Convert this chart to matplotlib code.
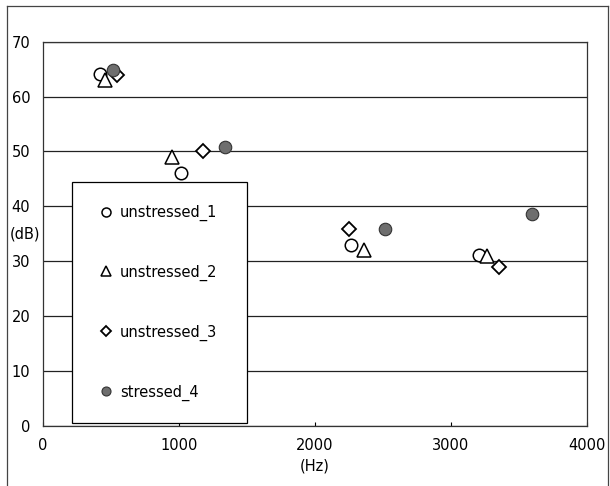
import matplotlib
matplotlib.use("Agg")
import matplotlib.pyplot as plt
from matplotlib.lines import Line2D

plt.rcParams['font.family'] = ['DejaVu Sans']

series_names = ["unstressed_1", "unstressed_2", "unstressed_3", "stressed_4"]
hz_unstressed_1 = [420, 1020, 2270, 3210]
db_unstressed_1 = [64.2, 46.0, 33.0, 31.1]
hz_unstressed_2 = [460, 950, 2360, 3270]
db_unstressed_2 = [63.0, 49.0, 32.0, 31.0]
hz_unstressed_3 = [550, 1180, 2250, 3355]
db_unstressed_3 = [63.9, 50.0, 35.8, 29.0]
hz_stressed_4 = [515, 1340, 2520, 3600]
db_stressed_4 = [64.8, 50.9, 35.8, 38.6]

x_ticks = [0, 1000, 2000, 3000, 4000]
y_ticks = [0, 10, 20, 30, 40, 50, 60, 70]

fig = plt.figure(figsize=(6.10, 4.86), dpi=100)
ax = fig.add_axes([0.070, 0.1235, 0.8918, 0.7907])

ms = 9
ax.plot(hz_unstressed_1, db_unstressed_1, linestyle='none', marker='o', ms=ms,
        mfc='white', mec='black', mew=1.1, label=series_names[0], zorder=3)
ax.plot(hz_unstressed_2, db_unstressed_2, linestyle='none', marker='^', ms=ms + 0.5,
        mfc='white', mec='black', mew=1.1, label=series_names[1], zorder=3)
ax.plot(hz_unstressed_3, db_unstressed_3, linestyle='none', marker='D', ms=7,
        mfc='white', mec='black', mew=1.3, label=series_names[2], zorder=3)
ax.plot(hz_stressed_4, db_stressed_4, linestyle='none', marker='o', ms=ms,
        mfc='#6e6e6e', mec='#333333', mew=0.8, label=series_names[3], zorder=3)

ax.set_xlim(0, 4000)
ax.set_ylim(0, 70)
ax.set_xticks(x_ticks)
ax.set_yticks(y_ticks)
ax.yaxis.grid(True, color='#222222', linewidth=0.9)
ax.set_axisbelow(True)
ax.tick_params(axis='x', direction='in', length=3, width=0.8, pad=9, labelsize=10.5)
ax.tick_params(axis='y', length=0, pad=9, labelsize=10.5)
for s in ax.spines.values():
    s.set_color('#333333')
    s.set_linewidth(0.9)

ax.text(0.5, -0.105, "(Hz)", transform=ax.transAxes, ha='center', va='center', fontsize=10.5)
ax.text(-0.033, 0.5, "(dB)", transform=ax.transAxes, ha='center', va='center', fontsize=10.5)

leg = ax.legend(loc='upper left', bbox_to_anchor=(0.054, 0.0078, 0.3216, 0.627),
                mode='expand', borderaxespad=0, fontsize=10.5, frameon=True,
                fancybox=False, edgecolor='black', framealpha=1,
                handlelength=1.5, handletextpad=0.25, borderpad=1.55,
                labelspacing=3.0, markerscale=0.72)
leg.get_frame().set_linewidth(0.9)
leg.set_zorder(5)

# outer figure frame
fl, fr, ft = 0.011, 0.9967, 0.988
fig.add_artist(Line2D([fl, fl], [0, ft], transform=fig.transFigure, color='#444444', lw=0.9))
fig.add_artist(Line2D([fl, fr], [ft, ft], transform=fig.transFigure, color='#444444', lw=0.9))
fig.add_artist(Line2D([fr, fr], [0, ft], transform=fig.transFigure, color='#444444', lw=0.9))

fig.savefig("out.png", dpi=100)
